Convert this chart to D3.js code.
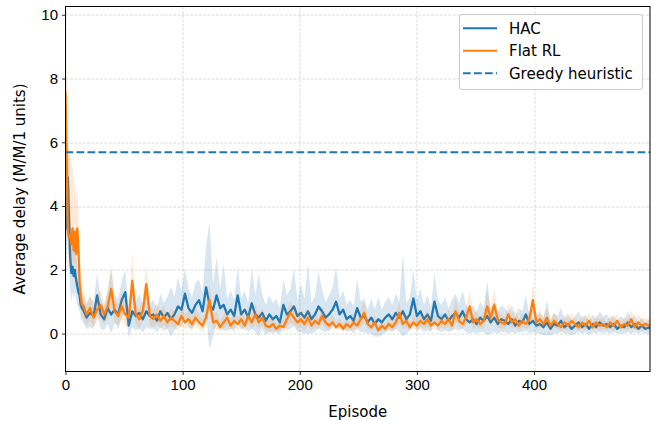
<!DOCTYPE html>
<html>
<head>
<meta charset="utf-8">
<script src="https://cdn.jsdelivr.net/npm/d3@7"></script>
<style>
  body { margin: 0; background: #fff; }
  svg { display: block; font-family: "DejaVu Sans", sans-serif; }
  .tick text { font-size: 15px; fill: #000; }
</style>
</head>
<body>
<div id="chart"></div>
<script>
// episodes sampled from the curves
const episodes = [0, 1, 2, 3, 4, 5, 6, 7, 8, 9, 10, 11, 12, 13, 14,
  15, 18, 21, 24, 27, 30, 33, 36, 39, 42,
  45, 48, 51, 54, 57, 60, 63, 66, 69, 72,
  75, 78, 81, 84, 87, 90, 93, 96, 99, 102,
  105, 108, 111, 114, 117, 120, 123, 126, 129, 132,
  135, 138, 141, 144, 147, 150, 153, 156, 159, 162,
  165, 168, 171, 174, 177, 180, 183, 186, 189, 192,
  195, 198, 201, 204, 207, 210, 213, 216, 219, 222,
  225, 228, 231, 234, 237, 240, 243, 246, 249, 252,
  255, 258, 261, 264, 267, 270, 273, 276, 279, 282,
  285, 288, 291, 294, 297, 300, 303, 306, 309, 312,
  315, 318, 321, 324, 327, 330, 333, 336, 339, 342,
  345, 348, 351, 354, 357, 360, 363, 366, 369, 372,
  375, 378, 381, 384, 387, 390, 393, 396, 399, 402,
  405, 408, 411, 414, 417, 420, 423, 426, 429, 432,
  435, 438, 441, 444, 447, 450, 453, 456, 459, 462,
  465, 468, 471, 474, 477, 480, 483, 486, 489, 492,
  495, 499];

const hacMean = [5.1, 3.3, 4.9, 3.6, 2.4, 1.9, 2.1, 1.8, 2.0, 1.7, 1.5, 1.3, 1.2, 0.9, 0.8,
  0.75, 0.5, 0.65, 0.55, 1.2, 0.6, 0.45, 0.8, 0.6, 0.75,
  0.6, 1.05, 1.3, 0.25, 0.7, 0.55, 0.65, 0.45, 0.7, 0.55,
  0.6, 0.4, 0.7, 0.5, 0.65, 0.45, 0.6, 0.85, 0.75, 1.25,
  0.8, 0.65, 0.9, 1.05, 0.7, 1.45, 0.9, 0.75, 1.2, 0.8,
  0.9, 0.6, 0.75, 0.55, 1.2, 0.6, 0.75, 0.5, 0.95, 0.6,
  0.5, 0.65, 0.4, 0.6, 0.45, 0.55, 0.35, 0.9, 0.6, 0.7,
  0.85, 0.55, 0.65, 0.5, 0.7, 0.45, 0.6, 0.85, 0.7, 0.5,
  0.6, 0.75, 1.0, 0.6, 0.75, 0.45, 0.55, 0.4, 0.8, 0.5,
  0.55, 0.35, 0.5, 0.3, 0.45, 0.35, 0.5, 0.6, 0.45, 0.65,
  0.5, 0.7, 0.45, 0.6, 1.1, 0.55, 0.7, 0.45, 0.6, 0.4,
  1.0, 0.55, 0.45, 0.6, 0.4, 0.55, 0.65, 0.5, 0.7, 0.45,
  0.35, 0.45, 0.3, 0.5, 0.4, 0.55, 0.35, 0.5, 0.3, 0.45,
  0.4, 0.3, 0.45, 0.25, 0.4, 0.35, 0.6, 0.3, 0.4, 0.25,
  0.3, 0.2, 0.35, 0.15, 0.3, 0.25, 0.4, 0.2, 0.3, 0.15,
  0.25, 0.35, 0.2, 0.3, 0.15, 0.3, 0.2, 0.35, 0.25, 0.3,
  0.2, 0.3, 0.15, 0.25, 0.2, 0.35, 0.2, 0.3, 0.15, 0.25,
  0.15, 0.2];

const hacUp = [1.0, 1.5, 1.2, 1.5, 1.6, 1.4, 1.1, 1.0, 0.9, 0.8, 0.7, 0.6, 0.6, 0.5, 0.5,
  0.45, 0.4, 0.5, 0.45, 0.7, 0.5, 0.4, 0.55, 1.4, 0.45,
  0.5, 0.6, 0.7, 0.5, 0.55, 0.45, 0.6, 0.45, 0.55, 0.4,
  0.45, 0.4, 0.55, 0.45, 0.5, 1.0, 0.55, 0.9, 0.6, 0.8,
  0.6, 0.5, 0.7, 0.65, 0.55, 1.3, 2.6, 0.8, 1.2, 0.6,
  1.3, 0.5, 0.6, 0.5, 0.9, 0.5, 0.6, 0.45, 1.1, 0.6,
  1.4, 0.55, 0.5, 0.6, 0.5, 0.55, 0.45, 0.8, 0.6, 0.7,
  1.2, 0.5, 0.9, 0.6, 1.5, 0.5, 0.6, 1.1, 0.7, 0.5,
  0.6, 0.7, 1.1, 0.5, 0.6, 0.45, 0.5, 0.45, 0.9, 0.5,
  0.55, 0.4, 0.6, 0.45, 0.7, 0.4, 0.5, 0.55, 0.45, 0.6,
  0.5, 1.8, 0.5, 0.55, 0.9, 0.5, 0.7, 0.45, 0.6, 0.4,
  0.9, 0.5, 0.45, 0.55, 0.4, 0.5, 0.6, 0.45, 0.65, 0.45,
  0.4, 0.45, 0.35, 0.5, 0.4, 1.1, 0.4, 0.5, 0.35, 0.45,
  0.4, 0.35, 0.45, 0.3, 0.4, 0.35, 0.6, 0.3, 0.4, 0.3,
  0.35, 0.3, 0.7, 0.25, 0.35, 0.3, 0.4, 0.25, 0.35, 0.25,
  0.3, 0.35, 0.25, 0.3, 0.25, 0.3, 0.25, 0.35, 0.3, 0.3,
  0.25, 0.3, 0.2, 0.3, 0.25, 0.35, 0.25, 0.3, 0.2, 0.25,
  0.2, 0.25];

const hacDown = [1.5, 1.2, 1.6, 1.3, 1.0, 0.9, 0.8, 0.7, 0.7, 0.6, 0.6, 0.5, 0.5, 0.45, 0.4,
  0.4, 0.35, 0.45, 0.4, 0.6, 0.45, 0.35, 0.5, 0.6, 0.4,
  0.45, 0.55, 0.6, 0.4, 0.5, 0.45, 0.5, 0.4, 0.5, 0.4,
  0.45, 0.35, 0.5, 0.4, 0.5, 0.55, 0.5, 0.6, 0.55, 0.7,
  0.6, 0.5, 0.6, 0.65, 0.55, 0.9, 1.4, 0.8, 0.9, 0.6,
  0.8, 0.5, 0.6, 0.5, 0.8, 0.5, 0.55, 0.45, 0.8, 0.55,
  0.6, 0.5, 0.45, 0.55, 0.45, 0.5, 0.4, 0.6, 0.5, 0.55,
  0.6, 0.5, 0.6, 0.5, 0.7, 0.45, 0.55, 0.7, 0.6, 0.45,
  0.5, 0.55, 0.7, 0.45, 0.55, 0.4, 0.45, 0.4, 0.6, 0.45,
  0.5, 0.35, 0.5, 0.4, 0.55, 0.4, 0.45, 0.5, 0.4, 0.5,
  0.45, 0.8, 0.45, 0.5, 0.7, 0.45, 0.55, 0.4, 0.5, 0.35,
  0.6, 0.45, 0.4, 0.5, 0.35, 0.45, 0.5, 0.4, 0.55, 0.4,
  0.35, 0.4, 0.3, 0.45, 0.35, 0.6, 0.35, 0.45, 0.3, 0.4,
  0.35, 0.3, 0.4, 0.25, 0.35, 0.3, 0.5, 0.3, 0.35, 0.25,
  0.3, 0.25, 0.4, 0.2, 0.3, 0.25, 0.35, 0.2, 0.3, 0.2,
  0.25, 0.3, 0.2, 0.25, 0.2, 0.25, 0.2, 0.3, 0.25, 0.25,
  0.2, 0.25, 0.15, 0.25, 0.2, 0.3, 0.2, 0.25, 0.15, 0.2,
  0.15, 0.2];

const flatMean = [7.6, 5.5, 3.2, 3.0, 3.1, 2.8, 3.3, 2.6, 3.2, 2.5, 3.3, 2.7, 1.6, 1.2, 0.9,
  0.9, 0.6, 0.8, 0.5, 0.75, 0.9, 0.6, 0.85, 1.4, 0.7,
  0.55, 0.85, 0.6, 0.5, 1.65, 0.6, 0.45, 0.7, 1.55, 0.55,
  0.45, 0.6, 0.4, 0.55, 0.35, 0.5, 0.4, 0.3, 0.55, 0.35,
  0.45, 0.3, 0.5, 0.35, 0.25, 0.5, 1.05, 0.35, 0.4, 0.2,
  0.35, 0.5, 0.25, 0.4, 0.3, 0.45, 0.25, 0.55, 0.35, 0.6,
  0.35, 0.5, 0.25, 0.2, 0.3, 0.15, 0.25, 0.2, 0.45, 0.65,
  0.5, 0.35, 0.45, 0.3, 0.5, 0.25, 0.4, 0.3, 0.55, 0.35,
  0.25, 0.35, 0.2, 0.3, 0.15, 0.3, 0.2, 0.35, 0.25, 0.45,
  0.65, 0.3, 0.2, 0.35, 0.1, 0.25, 0.15, 0.3, 0.2, 0.35,
  0.65, 0.3, 0.4, 0.2, 0.35, 0.25, 0.4, 0.3, 0.45, 0.25,
  0.35, 0.25, 0.4, 0.3, 0.45, 0.25, 0.7, 0.4, 0.3, 0.5,
  0.85, 0.35, 0.45, 0.3, 0.4, 0.85, 0.5, 0.9, 0.45, 0.35,
  0.3, 0.6, 0.35, 0.45, 0.25, 0.4, 0.3, 0.45, 1.05, 0.35,
  0.45, 0.3, 0.5, 0.25, 0.4, 0.3, 0.2, 0.35, 0.25, 0.4,
  0.3, 0.2, 0.35, 0.25, 0.4, 0.2, 0.35, 0.25, 0.3, 0.2,
  0.35, 0.25, 0.4, 0.2, 0.3, 0.25, 0.45, 0.2, 0.35, 0.25,
  0.3, 0.25];

const flatUp = [2.1, 2.2, 2.6, 2.8, 2.7, 2.5, 2.0, 1.8, 1.7, 1.5, 1.4, 1.2, 1.0, 0.8, 0.6,
  0.5, 0.4, 0.45, 0.35, 0.4, 0.5, 0.35, 0.45, 0.7, 0.4,
  0.35, 0.45, 0.4, 0.3, 0.9, 0.35, 0.3, 0.4, 0.6, 0.35,
  0.3, 0.35, 0.3, 0.35, 0.25, 0.3, 0.3, 0.25, 0.35, 0.25,
  0.3, 0.25, 0.3, 0.25, 0.2, 0.3, 0.5, 0.25, 0.3, 0.2,
  0.25, 0.3, 0.2, 0.25, 0.2, 0.3, 0.2, 0.3, 0.25, 0.35,
  0.25, 0.3, 0.2, 0.2, 0.25, 0.15, 0.2, 0.2, 0.3, 0.35,
  0.3, 0.25, 0.3, 0.25, 0.3, 0.2, 0.25, 0.2, 0.3, 0.25,
  0.2, 0.25, 0.15, 0.2, 0.15, 0.2, 0.15, 0.25, 0.2, 0.3,
  0.35, 0.2, 0.15, 0.25, 0.1, 0.2, 0.15, 0.2, 0.15, 0.25,
  0.35, 0.2, 0.25, 0.15, 0.25, 0.2, 0.25, 0.2, 0.3, 0.2,
  0.25, 0.2, 0.25, 0.2, 0.3, 0.2, 0.4, 0.25, 0.2, 0.3,
  0.5, 0.25, 0.3, 0.2, 0.25, 0.5, 0.3, 0.5, 0.3, 0.25,
  0.2, 0.35, 0.25, 0.3, 0.2, 0.25, 0.2, 0.3, 0.5, 0.25,
  0.3, 0.2, 0.3, 0.2, 0.25, 0.2, 0.15, 0.25, 0.2, 0.25,
  0.2, 0.15, 0.25, 0.2, 0.25, 0.15, 0.25, 0.2, 0.2, 0.15,
  0.25, 0.2, 0.25, 0.15, 0.2, 0.2, 0.3, 0.15, 0.25, 0.2,
  0.2, 0.2];

const flatDown = [1.5, 1.5, 1.0, 1.0, 0.9, 0.8, 1.0, 0.7, 0.9, 0.6, 0.8, 0.6, 0.5, 0.4, 0.35,
  0.4, 0.35, 0.4, 0.3, 0.35, 0.4, 0.3, 0.4, 0.5, 0.35,
  0.3, 0.4, 0.35, 0.3, 0.5, 0.3, 0.3, 0.35, 0.45, 0.3,
  0.25, 0.3, 0.25, 0.3, 0.2, 0.25, 0.25, 0.2, 0.3, 0.2,
  0.25, 0.2, 0.25, 0.2, 0.2, 0.25, 0.35, 0.2, 0.25, 0.15,
  0.2, 0.25, 0.15, 0.2, 0.2, 0.25, 0.15, 0.25, 0.2, 0.3,
  0.2, 0.25, 0.15, 0.15, 0.2, 0.1, 0.15, 0.15, 0.25, 0.3,
  0.25, 0.2, 0.25, 0.2, 0.25, 0.15, 0.2, 0.15, 0.25, 0.2,
  0.15, 0.2, 0.1, 0.15, 0.1, 0.15, 0.1, 0.2, 0.15, 0.25,
  0.3, 0.15, 0.1, 0.2, 0.08, 0.15, 0.1, 0.15, 0.1, 0.2,
  0.3, 0.15, 0.2, 0.1, 0.2, 0.15, 0.2, 0.15, 0.25, 0.15,
  0.2, 0.15, 0.2, 0.15, 0.25, 0.15, 0.3, 0.2, 0.15, 0.25,
  0.4, 0.2, 0.25, 0.15, 0.2, 0.4, 0.25, 0.4, 0.25, 0.2,
  0.15, 0.3, 0.2, 0.25, 0.15, 0.2, 0.15, 0.25, 0.4, 0.2,
  0.25, 0.15, 0.25, 0.15, 0.2, 0.15, 0.1, 0.2, 0.15, 0.2,
  0.15, 0.1, 0.2, 0.15, 0.2, 0.1, 0.2, 0.15, 0.15, 0.1,
  0.2, 0.15, 0.2, 0.1, 0.15, 0.15, 0.25, 0.1, 0.2, 0.15,
  0.15, 0.15];

const greedyDelay = 5.69;
const xTicks = [0, 100, 200, 300, 400];
const yTicks = [0, 2, 4, 6, 8, 10];
const legendLabels = ["HAC", "Flat RL", "Greedy heuristic"];

const blue = "#1f77b4", orange = "#ff7f0e";
const fontSize = 15;

const W = 658, H = 421;
const margin = {top: 6.5, right: 8, bottom: 49.5, left: 65.5};
const width = W - margin.left - margin.right;
const height = H - margin.top - margin.bottom;

const svg = d3.select("#chart").append("svg")
    .attr("width", W)
    .attr("height", H);

const g = svg.append("g")
    .attr("transform", `translate(${margin.left},${margin.top})`);

const x = d3.scaleLinear().domain([0, 499]).range([0, width]);
const y = d3.scaleLinear().domain([-1.19, 10.26]).range([height, 0]);

// grid
g.append("g").selectAll("line")
    .data(xTicks)
    .join("line")
    .attr("x1", d => Math.round(x(d)) + 0.5).attr("x2", d => Math.round(x(d)) + 0.5)
    .attr("y1", 0).attr("y2", height)
    .attr("stroke", "#b0b0b0").attr("stroke-opacity", 0.55)
    .attr("stroke-width", 0.8).attr("stroke-dasharray", "3,1.3");
g.append("g").selectAll("line")
    .data(yTicks)
    .join("line")
    .attr("y1", d => Math.round(y(d)) + 0.5).attr("y2", d => Math.round(y(d)) + 0.5)
    .attr("x1", 0).attr("x2", width)
    .attr("stroke", "#b0b0b0").attr("stroke-opacity", 0.55)
    .attr("stroke-width", 0.8).attr("stroke-dasharray", "3,1.3");

svg.append("clipPath").attr("id", "clip")
    .append("rect").attr("width", width).attr("height", height);

const plot = g.append("g").attr("clip-path", "url(#clip)");

const rows = episodes.map((e, i) => ({
    ep: e,
    hac: hacMean[i], hacLo: hacMean[i] - hacDown[i], hacHi: hacMean[i] + hacUp[i],
    flat: flatMean[i], flatLo: flatMean[i] - flatDown[i], flatHi: flatMean[i] + flatUp[i]
}));

function band(key) {
    return d3.area()
        .x(d => x(d.ep))
        .y0(d => y(d[key + "Lo"]))
        .y1(d => y(d[key + "Hi"]));
}
function line(key) {
    return d3.line().x(d => x(d.ep)).y(d => y(d[key]));
}

plot.append("path").datum(rows)
    .attr("d", band("hac")).attr("fill", blue).attr("fill-opacity", 0.18);
plot.append("path").datum(rows)
    .attr("d", line("hac")).attr("fill", "none")
    .attr("stroke", blue).attr("stroke-width", 2.3).attr("stroke-linejoin", "round");
plot.append("path").datum(rows)
    .attr("d", band("flat")).attr("fill", orange).attr("fill-opacity", 0.16);
plot.append("path").datum(rows)
    .attr("d", line("flat")).attr("fill", "none")
    .attr("stroke", orange).attr("stroke-width", 2.3).attr("stroke-linejoin", "round");

plot.append("line")
    .attr("x1", 0).attr("x2", width)
    .attr("y1", y(greedyDelay)).attr("y2", y(greedyDelay))
    .attr("stroke", blue).attr("stroke-width", 2.1)
    .attr("stroke-dasharray", "7.7,3.3");

// axes
const xAxis = g.append("g")
    .attr("transform", `translate(0,${height})`)
    .call(d3.axisBottom(x).tickValues(xTicks).tickSize(3.5).tickPadding(4));
const yAxis = g.append("g")
    .call(d3.axisLeft(y).tickValues(yTicks).tickSize(3.5).tickPadding(4));
[xAxis, yAxis].forEach(a => {
    a.select(".domain").remove();
    a.selectAll(".tick line").attr("stroke", "#000").attr("stroke-width", 0.8);
});

g.append("rect")
    .attr("width", width).attr("height", height)
    .attr("fill", "none").attr("stroke", "#000").attr("stroke-width", 1);

svg.append("text")
    .attr("x", margin.left + width / 2).attr("y", 417)
    .attr("text-anchor", "middle").attr("font-size", fontSize)
    .text("Episode");
svg.append("text")
    .attr("transform", `translate(25,${margin.top + height / 2}) rotate(-90)`)
    .attr("text-anchor", "middle").attr("font-size", fontSize)
    .text("Average delay (M/M/1 units)");

// legend
const legend = svg.append("g").attr("transform", "translate(459,14)");
legend.append("rect")
    .attr("x", 0.5).attr("y", 0.5).attr("width", 183).attr("height", 75)
    .attr("rx", 2.5)
    .attr("fill", "#fff").attr("fill-opacity", 0.8)
    .attr("stroke", "#cccccc").attr("stroke-width", 1);
const legendColors = [blue, orange, blue];
const legendDash = [null, null, "7.7,3.3"];
legendLabels.forEach((lab, i) => {
    const ly = 14.3 + i * 22.5;
    legend.append("line")
        .attr("x1", 4).attr("x2", 38).attr("y1", ly).attr("y2", ly)
        .attr("stroke", legendColors[i]).attr("stroke-width", 2.1)
        .attr("stroke-dasharray", legendDash[i]);
    legend.append("text")
        .attr("x", 50).attr("y", ly).attr("dy", "0.35em")
        .attr("font-size", fontSize)
        .text(lab);
});
</script>
</body>
</html>
